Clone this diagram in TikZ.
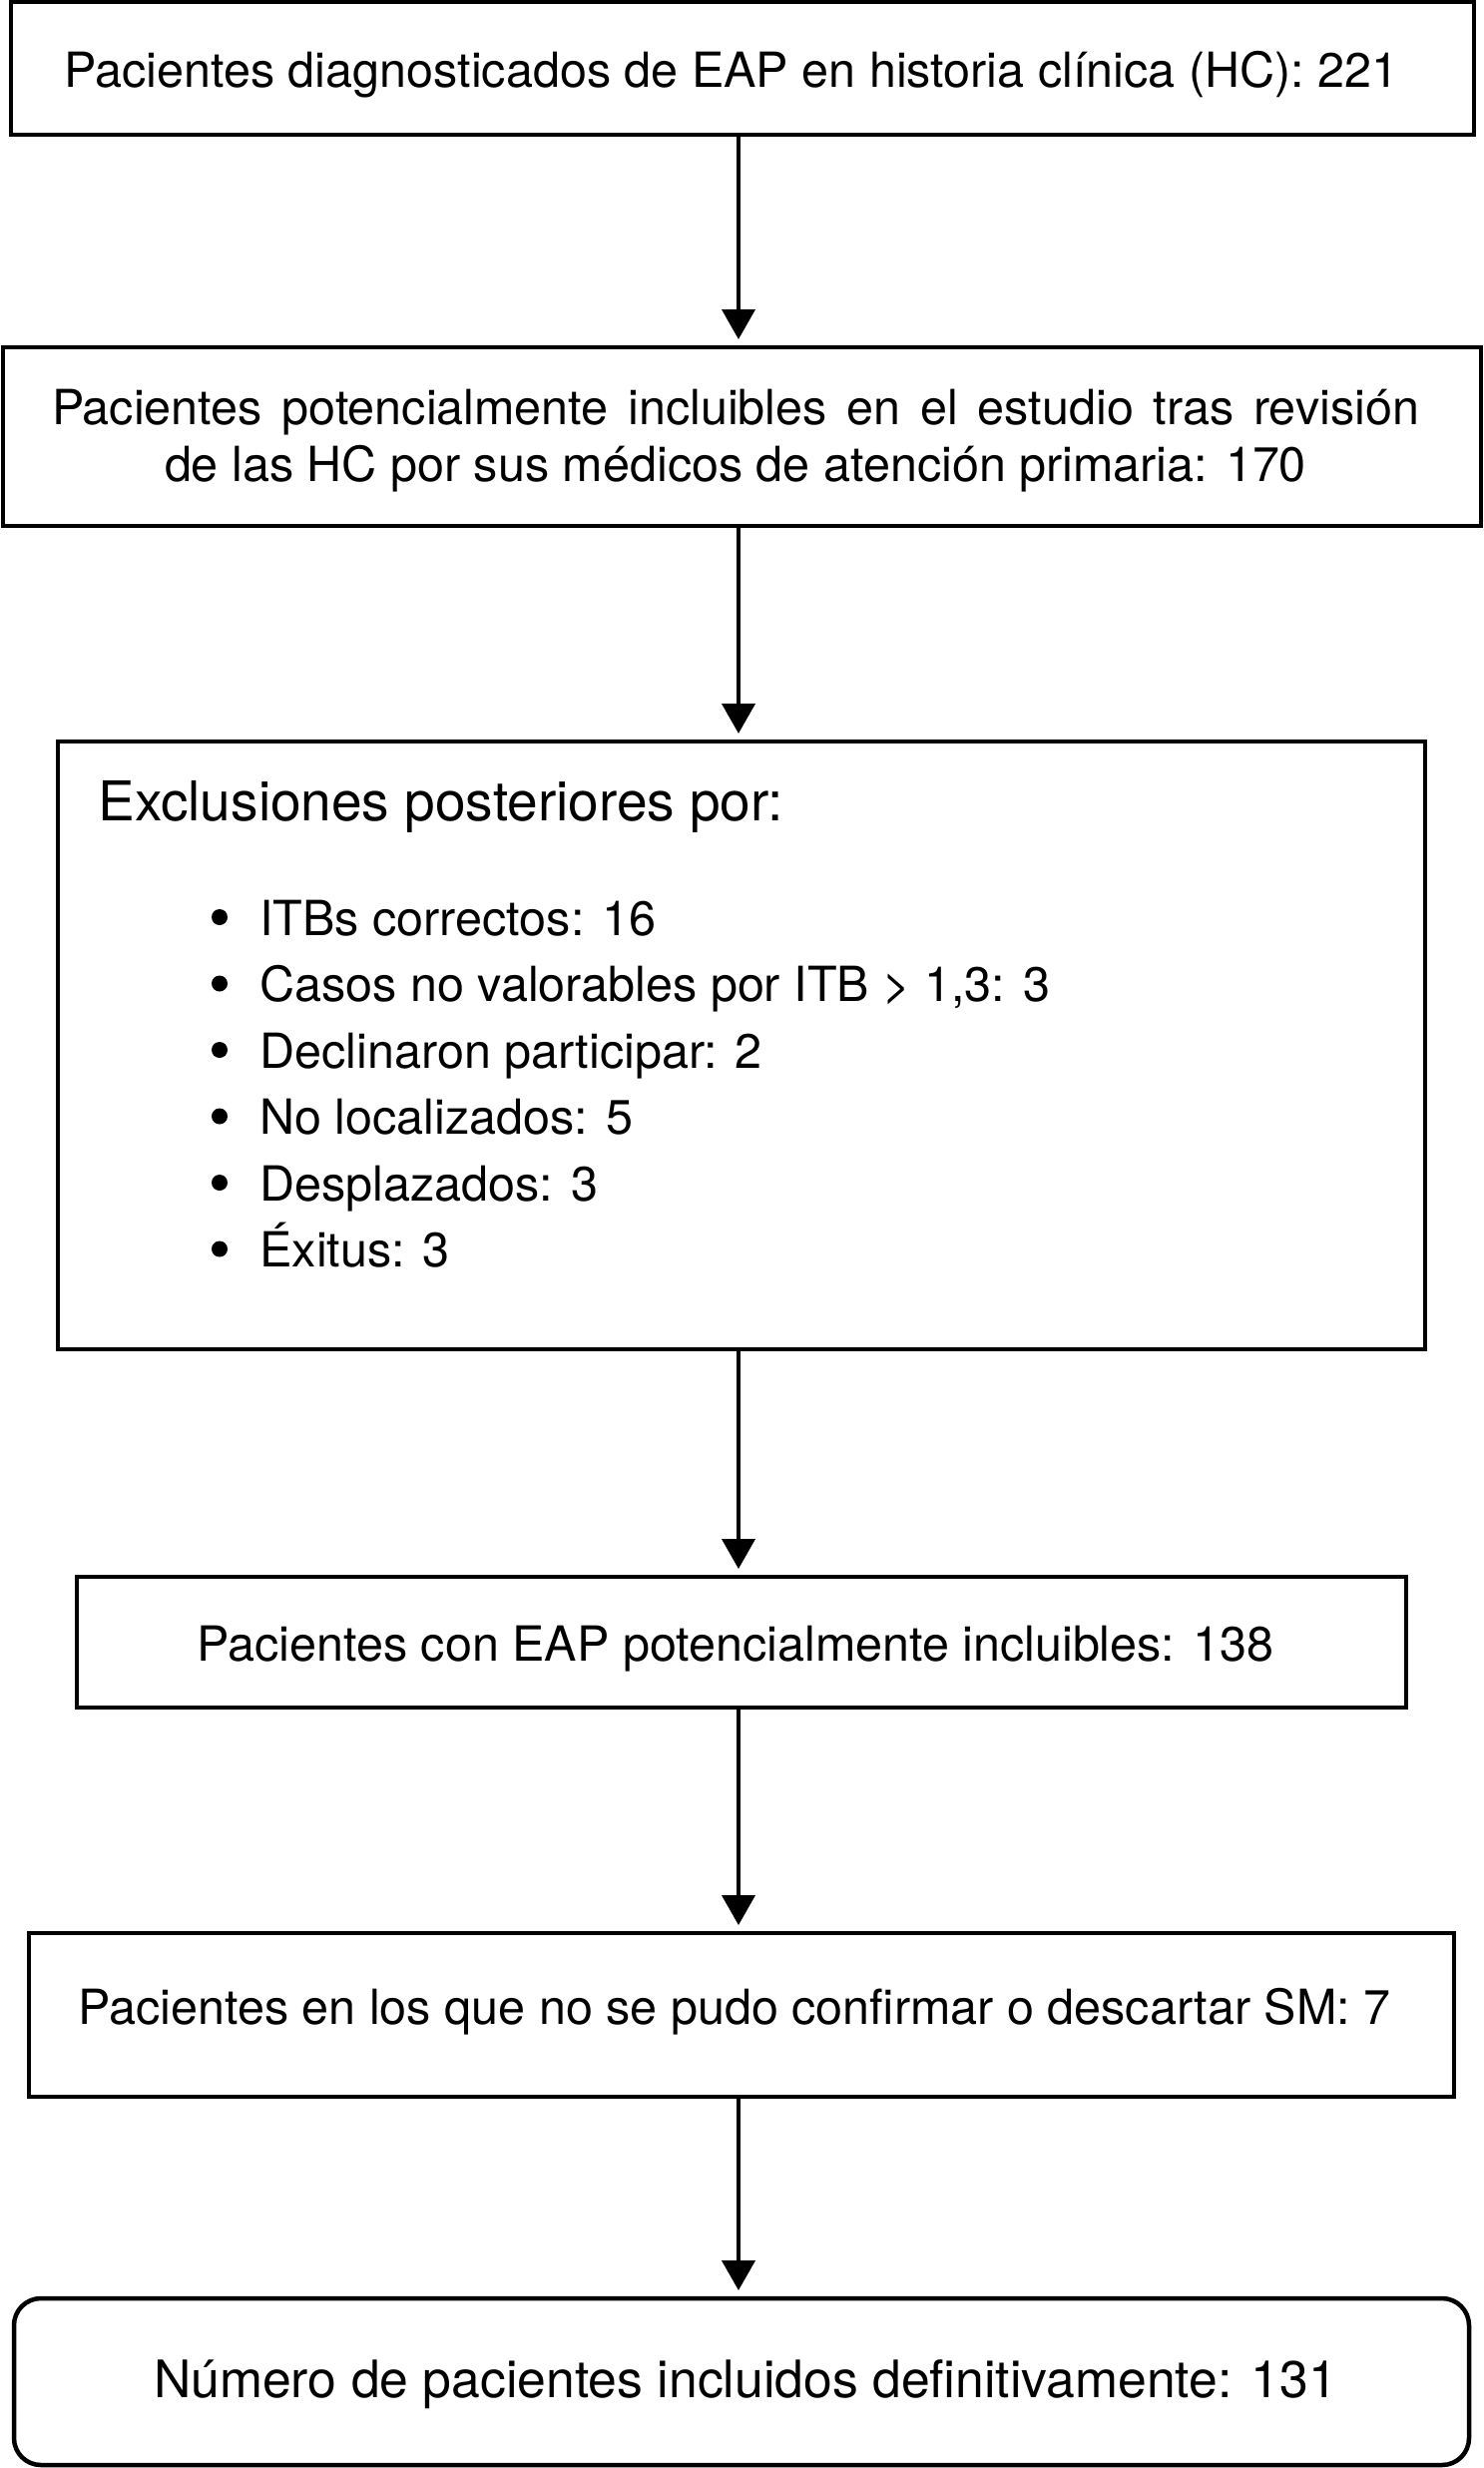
\documentclass[tikz,border=0pt]{standalone}
\usepackage{fontspec}
\setmainfont{TeX Gyre Heros}
\usetikzlibrary{arrows.meta}
\begin{document}
\begin{tikzpicture}[x=0.5pt,y=-0.5pt,
  box/.style={draw, line width=2.25pt, inner sep=0pt, outer sep=0pt},
  txt/.style={inner sep=0pt, anchor=base, font=\fontsize{24.25pt}{29pt}\selectfont},
  itm/.style={inner sep=0pt, anchor=base west, font=\fontsize{24.25pt}{29pt}\selectfont},
  bul/.style={circle, fill=black, inner sep=0pt, minimum size=8pt},
  arr/.style={-{Triangle[width=16.5pt,length=15pt]}, line width=2pt, shorten >=4pt}]
\useasboundingbox (0,0) rectangle (1487,2473);
% boxes
\node[box, minimum width=733pt, minimum height=66.5pt] (b1) at (744,68.5) {};
\node[box, minimum width=740.5pt, minimum height=89.5pt] (b2) at (743.5,437.5) {};
\node[box, minimum width=685pt, minimum height=304.5pt] (b3) at (743,1047.5) {};
\node[box, minimum width=666pt, minimum height=65.5pt] (b4) at (743,1645.5) {};
\node[box, minimum width=714pt, minimum height=82pt] (b5) at (743,2019) {};
\node[box, rounded corners=13.5pt, minimum width=729pt, minimum height=83.5pt] (b6) at (743,2386.5) {};
% texts
\node[txt] (t1) at (733,87) {Pacientes diagnosticados de EAP en historia clínica (HC): 221};
\node[txt] (t2a) at (737,425) {\makebox[685pt][s]{Pacientes potencialmente incluibles en el estudio tras revisión}};
\node[txt] (t2b) at (737,482) {de las HC por sus médicos de atención primaria: 170};
\node[inner sep=0pt, anchor=base west, font=\fontsize{27.5pt}{33pt}\selectfont] (t3) at (98,822) {Exclusiones posteriores por:};
\foreach \i/\t in {0/{ITBs correctos: 16},1/{Casos no valorables por ITB > 1,3: 3},2/{Declinaron participar: 2},3/{No localizados: 5},4/{Desplazados: 3},5/{Éxitus: 3}}{
  \node[bul] (bu\i) at (220,{937-18+66.5*\i}) {};
  \node[itm] (it\i) at (260,{937+66.5*\i}) {\t};
}
\node[txt] (t4) at (737,1664) {Pacientes con EAP potencialmente incluibles: 138};
\node[txt] (t5) at (736,2028) {Pacientes en los que no se pudo confirmar o descartar SM: 7};
\node[inner sep=0pt, anchor=base, font=\fontsize{25.85pt}{31pt}\selectfont] (t6) at (747,2402) {Número de pacientes incluidos definitivamente: 131};
% connectors
\coordinate (ax) at (740,0);
\draw[arr] (b1.south -| ax) -- (b2.north -| ax);
\draw[arr] (b2.south -| ax) -- (b3.north -| ax);
\draw[arr] (b3.south -| ax) -- (b4.north -| ax);
\draw[arr] (b4.south -| ax) -- (b5.north -| ax);
\draw[arr] (b5.south -| ax) -- (b6.north -| ax);
\end{tikzpicture}
\end{document}
